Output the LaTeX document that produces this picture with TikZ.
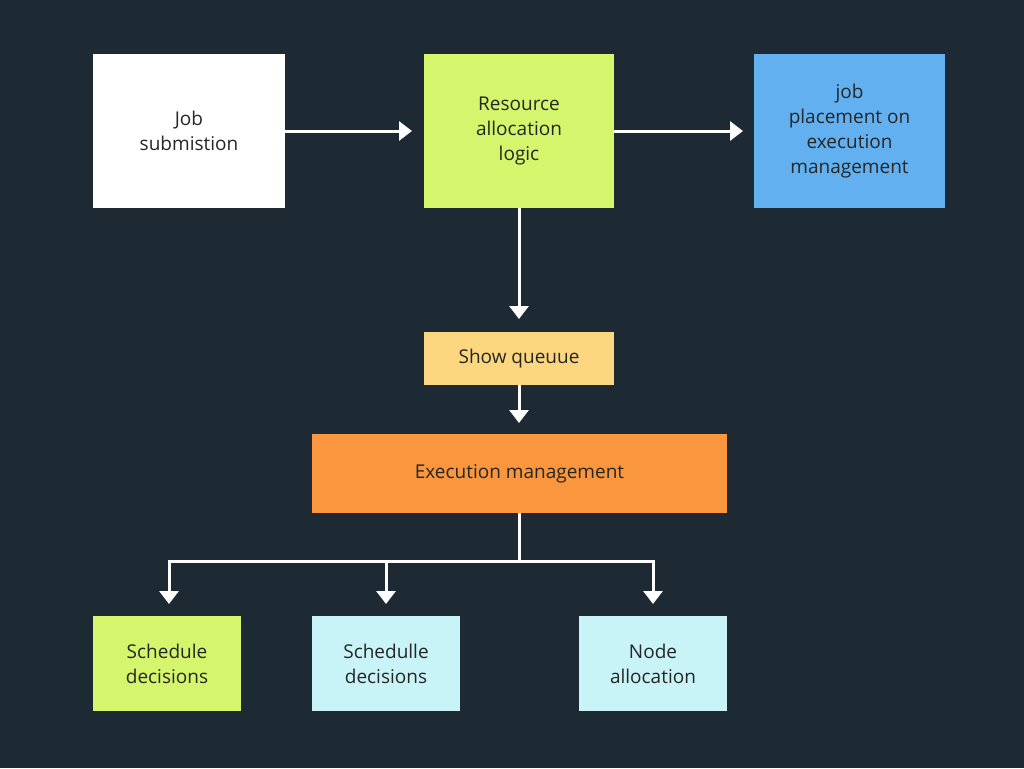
\documentclass[tikz,border=0pt]{standalone}
\usepackage{fontspec}
\setmainfont{Open Sans}
\usetikzlibrary{arrows.meta}
\definecolor{bg}{HTML}{1E2A33}
\definecolor{lg}{HTML}{D4F56C}
\definecolor{bl}{HTML}{62B0F0}
\definecolor{yl}{HTML}{FCD77F}
\definecolor{or}{HTML}{F9963E}
\definecolor{cy}{HTML}{C8F4F8}
\begin{document}
\begin{tikzpicture}[x=1pt,y=-1pt,
 box/.style={draw=none,inner sep=0pt,align=center,font=\fontsize{19}{25}\selectfont,text=black!85},
 arr/.style={draw=white,line width=3pt,-{Triangle[length=13pt,width=19pt]}}]
\fill[bg] (0,0) rectangle (1024,768);
\useasboundingbox (0,0) rectangle (1024,768);
\newcommand{\bx}[6]{\node[box,fill=#6,minimum width=#4-#2,minimum height=#5-#3] (#1) at ({(#2+#4)/2},{(#3+#5)/2}) {};}
\bx{js}{93}{54}{285}{208}{white}
\bx{ra}{424}{54}{614}{208}{lg}
\bx{jp}{754}{54}{945}{208}{bl}
\bx{sq}{424}{332}{614}{385}{yl}
\bx{em}{312}{434}{727}{513}{or}
\bx{sd}{93}{616}{241}{711}{lg}
\bx{sd2}{312}{616}{460}{711}{cy}
\bx{na}{579}{616}{727}{711}{cy}
\node[box] at (js) {Job\\submistion};
\node[box] at (ra) {Resource\\allocation\\logic};
\node[box] at (jp) {job\\placement on\\execution\\management};
\node[box] at (sq) {Show queuue};
\node[box] at (em) {Execution management};
\node[box] at (sd) {Schedule\\decisions};
\node[box] at (sd2) {Schedulle\\decisions};
\node[box] at (na) {Node\\allocation};
\coordinate (a1) at (412,131); \coordinate (a2) at (743,131);
\draw[arr] (js.east|-a1) -- (a1);
\draw[arr] (ra.east|-a2) -- (a2);
\draw[arr] (ra.south) -- (519,319);
\draw[arr] (sq.south) -- (519,423);
\coordinate (j) at (519,561);
\draw[white,line width=3pt] (em.south-|j) -- (j);
\draw[white,line width=3pt,line cap=rect] (169,561) -- (653,561);
\draw[arr] (169,561) -- (169,604);
\draw[arr] (386,561) -- (386,604);
\draw[arr] (653,561) -- (653,604);
\end{tikzpicture}
\end{document}
